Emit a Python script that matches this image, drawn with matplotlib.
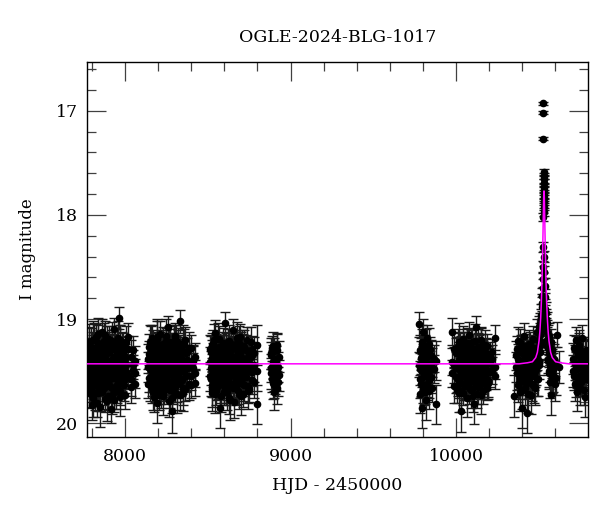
import matplotlib
matplotlib.use("Agg")
import matplotlib.pyplot as plt
from matplotlib.ticker import MultipleLocator

title = "OGLE-2024-BLG-1017"
xlabel = "HJD - 2450000"
ylabel = "I magnitude"

# ---- observed photometry: nights per season, up to three exposures per night ----
t_s1 = [7778, 7782, 7785, 7790, 7793, 7797, 7801, 7806, 7809, 7813, 7818, 7822, 7825, 7830, 7834,
        7838, 7843, 7846, 7851, 7855, 7859, 7863, 7868, 7871, 7876, 7880, 7884, 7889, 7893, 7897,
        7902, 7906, 7910, 7915, 7919, 7923, 7928, 7932, 7936, 7941, 7945, 7949, 7954, 7958, 7962,
        7967, 7971, 7976, 7981, 7986, 7992, 7999, 8008, 8020, 8034, 8048, 8058]
m_s1a = [19.52, 19.31, 19.68, 19.44, 19.21, 19.57, 19.39, 19.76, 19.28, 19.49, 19.62, 19.17, 19.45,
         19.35, 19.71, 19.53, 19.26, 19.41, 19.84, 19.33, 19.58, 19.12, 19.47, 19.66, 19.38, 19.24,
         19.55, 19.43, 19.79, 19.30, 19.50, 19.19, 19.64, 19.40, 19.27, 19.73, 19.46, 19.10, 19.56,
         19.36, 19.69, 19.22, 19.48, 19.60, 18.99, 19.42, 19.75, 19.34, 19.54, 19.25, 19.63, 19.37,
         19.51, 19.29, 19.58, 19.44, 19.40]
m_s1b = [19.33, 19.61, 19.25, 19.50, 19.72, 19.38, 19.55, 19.20, 19.64, 19.42,
         19.29, 19.58, 19.47, 19.81, 19.23, 19.36, 19.67, 19.52, 19.31, 19.45,
         19.70, 19.27, 19.56, 19.39, 19.15, 19.62, 19.34, 19.48, 19.26, 19.74,
         19.41, 19.59, 19.30, 19.53, 19.66, 19.21, 19.37, 19.78, 19.44, 19.28,
         19.51, 19.63, 19.35, 19.18, 19.57, 19.69, 19.24, 19.46, 19.32, 19.60,
         19.40, 19.73, 19.22, 19.54, 19.36, 19.49, 19.62]
m_s1c = [19.58, 19.40, 19.22, 19.66, 19.35, 19.47, 19.83, 19.30, 19.52, 19.19,
         19.71, 19.43, 19.28, 19.60, 19.49, 19.14, 19.56, 19.37, 19.68, 19.25,
         19.44, 19.62, 19.33, 19.21, 19.54, 19.77, 19.39, 19.26, 19.50, 19.45,
         19.64, 19.32, 19.48, 19.86, 19.41, 19.29, 19.57, 19.36, 19.70, 19.23,
         19.46, 19.31, 19.66, 19.42, 19.53, 19.20, 19.38, 19.61, 19.27, 19.47,
         19.35, 19.58, 19.44, 19.17, 19.65, 19.30, 19.52]
e_s1 = [0.15, 0.13, 0.17, 0.14, 0.12, 0.16, 0.14, 0.18, 0.13, 0.15,
        0.16, 0.12, 0.14, 0.13, 0.17, 0.15, 0.12, 0.14, 0.20, 0.13,
        0.16, 0.12, 0.14, 0.17, 0.13, 0.12, 0.15, 0.14, 0.19, 0.13,
        0.15, 0.12, 0.16, 0.14, 0.13, 0.18, 0.14, 0.11, 0.16, 0.13,
        0.17, 0.12, 0.15, 0.16, 0.11, 0.14, 0.18, 0.13, 0.15, 0.12,
        0.16, 0.13, 0.15, 0.13, 0.16, 0.14, 0.14]

t_s2 = [8140, 8146, 8151, 8155, 8160, 8164, 8169, 8173, 8178, 8182, 8187, 8191, 8196, 8200, 8205,
        8209, 8214, 8218, 8223, 8227, 8232, 8236, 8241, 8245, 8250, 8254, 8259, 8263, 8268, 8272,
        8277, 8281, 8286, 8290, 8295, 8299, 8304, 8308, 8313, 8317, 8322, 8326, 8331, 8335, 8340,
        8345, 8350, 8356, 8362, 8369, 8377, 8386, 8396, 8410, 8425]
m_s2a = [19.46, 19.27, 19.63, 19.38, 19.55, 19.18, 19.70, 19.42, 19.33, 19.59, 19.24, 19.51, 19.81,
         19.36, 19.47, 19.14, 19.65, 19.40, 19.29, 19.57, 19.74, 19.32, 19.49, 19.21, 19.61, 19.44,
         19.08, 19.53, 19.37, 19.68, 19.26, 19.45, 19.88, 19.34, 19.56, 19.16, 19.50, 19.41, 19.72,
         19.23, 19.60, 19.35, 19.48, 19.02, 19.58, 19.30, 19.66, 19.43, 19.20, 19.54, 19.39, 19.62,
         19.28, 19.47, 19.36]
m_s2b = [19.38, 19.57, 19.22, 19.49, 19.66, 19.31, 19.44, 19.75, 19.26, 19.53,
         19.41, 19.63, 19.19, 19.47, 19.35, 19.58, 19.29, 19.71, 19.43, 19.24,
         19.52, 19.37, 19.64, 19.45, 19.16, 19.55, 19.32, 19.79, 19.40, 19.27,
         19.60, 19.48, 19.34, 19.69, 19.21, 19.46, 19.56, 19.30, 19.62, 19.42,
         19.25, 19.51, 19.73, 19.36, 19.44, 19.59, 19.23, 19.50, 19.67, 19.33,
         19.47, 19.28, 19.55, 19.40, 19.61]
m_s2c = [19.62, 19.34, 19.48, 19.21, 19.59, 19.43, 19.28, 19.52, 19.67, 19.36,
         19.45, 19.17, 19.56, 19.40, 19.73, 19.30, 19.50, 19.25, 19.61, 19.46,
         19.35, 19.69, 19.42, 19.57, 19.27, 19.39, 19.64, 19.22, 19.51, 19.44,
         19.33, 19.76, 19.47, 19.26, 19.58, 19.38, 19.65, 19.20, 19.49, 19.31,
         19.54, 19.41, 19.29, 19.60, 19.37, 19.48, 19.71, 19.24, 19.43, 19.55,
         19.32, 19.46, 19.63, 19.39, 19.52]
e_s2 = [0.14, 0.13, 0.16, 0.14, 0.15, 0.12, 0.17, 0.14, 0.13, 0.16,
        0.12, 0.15, 0.19, 0.13, 0.14, 0.12, 0.17, 0.14, 0.13, 0.16,
        0.18, 0.13, 0.15, 0.12, 0.16, 0.14, 0.11, 0.15, 0.13, 0.17,
        0.12, 0.14, 0.21, 0.13, 0.15, 0.12, 0.15, 0.14, 0.18, 0.12,
        0.16, 0.13, 0.14, 0.11, 0.16, 0.13, 0.17, 0.14, 0.12, 0.15,
        0.14, 0.16, 0.13, 0.14, 0.13]

t_s3 = [8514, 8519, 8524, 8528, 8533, 8537, 8542, 8546, 8551, 8555, 8560, 8564, 8569, 8573, 8578,
        8582, 8587, 8591, 8596, 8600, 8605, 8609, 8614, 8618, 8623, 8627, 8632, 8636, 8641, 8645,
        8650, 8654, 8659, 8663, 8668, 8672, 8677, 8681, 8686, 8690, 8695, 8699, 8704, 8709, 8714,
        8719, 8724, 8730, 8736, 8743, 8751, 8760, 8770, 8782, 8795]
m_s3a = [19.41, 19.58, 19.25, 19.67, 19.36, 19.49, 19.13, 19.72, 19.44, 19.30, 19.61, 19.52, 19.19,
         19.85, 19.38, 19.55, 19.27, 19.46, 19.64, 19.33, 19.04, 19.57, 19.42, 19.70, 19.22, 19.50,
         19.35, 19.78, 19.45, 19.28, 19.62, 19.11, 19.53, 19.39, 19.66, 19.24, 19.48, 19.31, 19.59,
         19.43, 19.17, 19.74, 19.37, 19.56, 19.26, 19.63, 19.40, 19.51, 19.20, 19.69, 19.34, 19.47,
         19.29, 19.60, 19.82]
m_s3b = [19.55, 19.32, 19.46, 19.71, 19.24, 19.60, 19.39, 19.50, 19.28, 19.65,
         19.43, 19.19, 19.57, 19.36, 19.48, 19.74, 19.31, 19.62, 19.41, 19.25,
         19.53, 19.67, 19.34, 19.45, 19.59, 19.21, 19.47, 19.38, 19.63, 19.29,
         19.52, 19.42, 19.80, 19.26, 19.44, 19.58, 19.35, 19.69, 19.23, 19.49,
         19.61, 19.30, 19.54, 19.40, 19.72, 19.27, 19.46, 19.56, 19.37, 19.64,
         19.43, 19.22, 19.59, 19.33, 19.50]
m_s3c = [19.29, 19.47, 19.63, 19.37, 19.52, 19.20, 19.58, 19.44, 19.69, 19.33,
         19.50, 19.41, 19.27, 19.61, 19.45, 19.35, 19.56, 19.23, 19.48, 19.70,
         19.38, 19.29, 19.64, 19.51, 19.42, 19.76, 19.31, 19.55, 19.24, 19.46,
         19.37, 19.66, 19.43, 19.28, 19.59, 19.49, 19.18, 19.54, 19.40, 19.72,
         19.34, 19.57, 19.45, 19.26, 19.62, 19.39, 19.53, 19.30, 19.48, 19.41,
         19.67, 19.36, 19.51, 19.44, 19.25]
e_s3 = [0.14, 0.16, 0.12, 0.17, 0.13, 0.15, 0.12, 0.18, 0.14, 0.13,
        0.16, 0.15, 0.12, 0.20, 0.13, 0.15, 0.12, 0.14, 0.17, 0.13,
        0.11, 0.16, 0.14, 0.17, 0.12, 0.15, 0.13, 0.19, 0.14, 0.12,
        0.16, 0.11, 0.15, 0.14, 0.17, 0.12, 0.15, 0.13, 0.16, 0.14,
        0.12, 0.18, 0.13, 0.15, 0.12, 0.16, 0.14, 0.15, 0.12, 0.17,
        0.13, 0.14, 0.13, 0.16, 0.19]

t_s4 = [8880, 8884, 8887, 8891, 8894, 8898, 8901, 8905, 8908, 8912, 8915, 8919, 8923, 8928]
m_s4a = [19.35, 19.52, 19.28, 19.61, 19.44, 19.70, 19.31, 19.48, 19.57, 19.39, 19.66, 19.25, 19.46, 19.54]
m_s4b = [19.47, 19.33, 19.58, 19.41, 19.26, 19.52, 19.63, 19.38, 19.45, 19.55, 19.30, 19.49, 19.60, 19.36]
e_s4 = [0.13, 0.15, 0.12, 0.16, 0.14, 0.17, 0.13, 0.14, 0.15, 0.13, 0.16, 0.12, 0.14, 0.15]

t_s5 = [9778, 9781, 9784, 9787, 9790, 9793, 9796, 9799, 9802, 9805, 9808, 9811, 9814, 9817, 9820,
        9823, 9826, 9830, 9834, 9838, 9843, 9849, 9856, 9866, 9880]
m_s5a = [19.05, 19.48, 19.72, 19.31, 19.58, 19.22, 19.85, 19.40, 19.12, 19.66, 19.36, 19.53, 19.27,
         19.78, 19.45, 19.18, 19.62, 19.34, 19.50, 19.69, 19.29, 19.56, 19.42, 19.38, 19.82]
m_s5b = [19.44, 19.30, 19.58, 19.62, 19.37, 19.50, 19.26, 19.67, 19.45, 19.33,
         19.55, 19.41, 19.70, 19.29, 19.52, 19.63, 19.36, 19.47, 19.24, 19.59,
         19.43, 19.35, 19.66, 19.48, 19.40]
e_s5 = [0.12, 0.15, 0.18, 0.13, 0.16, 0.12, 0.20, 0.14, 0.12, 0.17, 0.13, 0.15, 0.12, 0.19, 0.14,
        0.12, 0.16, 0.13, 0.15, 0.17, 0.12, 0.15, 0.14, 0.13, 0.19]

t_s6 = [9978, 9990, 10000, 10006, 10011, 10016, 10020, 10024, 10028, 10032, 10036, 10040, 10044,
        10048, 10052, 10056, 10060, 10064, 10068, 10072, 10076, 10080, 10084, 10088, 10092, 10096,
        10100, 10104, 10108, 10112, 10116, 10120, 10124, 10128, 10132, 10136, 10140, 10144, 10148,
        10152, 10157, 10162, 10167, 10172, 10178, 10185, 10193, 10203, 10216, 10232]
m_s6a = [19.12, 19.64, 19.47, 19.30, 19.58, 19.39, 19.71, 19.25, 19.52, 19.88, 19.35, 19.44, 19.19,
         19.62, 19.41, 19.55, 19.28, 19.76, 19.37, 19.49, 19.15, 19.60, 19.33, 19.46, 19.68, 19.22,
         19.53, 19.40, 19.82, 19.31, 19.57, 19.08, 19.45, 19.36, 19.65, 19.27, 19.50, 19.43, 19.73,
         19.20, 19.56, 19.34, 19.61, 19.38, 19.48, 19.26, 19.59, 19.42, 19.32, 19.18]
m_s6b = [19.41, 19.29, 19.56, 19.68, 19.33, 19.48, 19.22, 19.60, 19.44, 19.37,
         19.53, 19.26, 19.71, 19.40, 19.31, 19.62, 19.47, 19.35, 19.58, 19.24,
         19.45, 19.66, 19.38, 19.52, 19.28, 19.43, 19.74, 19.32, 19.55, 19.46,
         19.21, 19.59, 19.39, 19.50, 19.27, 19.63, 19.42, 19.34, 19.57, 19.48,
         19.30, 19.69, 19.44, 19.25, 19.53, 19.40, 19.61, 19.36, 19.49, 19.55]
m_s6c = [19.52, 19.44, 19.33, 19.57, 19.26, 19.62, 19.40, 19.48, 19.31, 19.69,
         19.38, 19.55, 19.46, 19.28, 19.64, 19.35, 19.51, 19.42, 19.23, 19.60,
         19.47, 19.32, 19.58, 19.39, 19.45, 19.67, 19.29, 19.50, 19.37, 19.61,
         19.43, 19.34, 19.56, 19.72, 19.30, 19.49, 19.41, 19.63, 19.27, 19.53,
         19.45, 19.36, 19.59, 19.48, 19.33, 19.66, 19.42, 19.51, 19.38, 19.46]
e_s6 = [0.13, 0.17, 0.15, 0.13, 0.16, 0.14, 0.18, 0.12, 0.15, 0.20,
        0.13, 0.14, 0.12, 0.16, 0.14, 0.15, 0.12, 0.18, 0.13, 0.15,
        0.12, 0.16, 0.13, 0.14, 0.17, 0.12, 0.15, 0.14, 0.19, 0.13,
        0.16, 0.11, 0.14, 0.13, 0.17, 0.12, 0.15, 0.14, 0.18, 0.12,
        0.16, 0.13, 0.16, 0.14, 0.15, 0.12, 0.16, 0.14, 0.13, 0.12]

# 2024 season with the microlensing event
t_s7 = [10352, 10362, 10368, 10373, 10378, 10382, 10386, 10390, 10394, 10398,
        10402, 10406, 10410, 10414, 10418, 10422, 10426, 10430, 10434, 10438,
        10442, 10446, 10450, 10454, 10458, 10462, 10466, 10470, 10474, 10478,
        10482, 10486, 10490, 10494, 10498, 10502, 10505, 10508, 10511, 10514,
        10517, 10519, 10521, 10523, 10524, 10525, 10526, 10527.0, 10527.3, 10527.6,
        10528.0, 10528.4, 10528.8, 10529.2, 10529.6, 10530.0, 10530.4, 10530.8, 10531.2, 10531.6,
        10532.0, 10533, 10534, 10536, 10538, 10540, 10542, 10544, 10546, 10548,
        10550, 10553, 10556, 10559, 10562, 10565, 10568, 10571, 10574, 10578,
        10583, 10590, 10600, 10612, 10622]
m_s7 = [19.74, 19.35, 19.52, 19.21, 19.61, 19.40, 19.70, 19.28, 19.48, 19.85,
        19.33, 19.57, 19.16, 19.45, 19.66, 19.30, 19.52, 19.90, 19.38, 19.60,
        19.24, 19.47, 19.73, 19.34, 19.55, 19.19, 19.43, 19.64, 19.29, 19.50,
        19.36, 19.12, 19.58, 19.27, 19.44, 19.08, 19.32, 19.05, 19.22, 18.96,
        18.88, 19.02, 18.78, 18.62, 18.50, 18.31, 18.02, 17.27, 17.02, 16.93,
        17.92, 17.84, 17.76, 17.69, 17.63, 17.59, 17.66, 17.73, 17.81, 17.88,
        17.97, 18.40, 18.55, 18.68, 18.79, 18.90, 19.00, 18.94, 19.10, 19.20,
        19.04, 19.28, 19.38, 19.16, 19.50, 19.31, 19.60, 19.22, 19.73, 19.43,
        19.54, 19.38, 19.62, 19.15, 19.46]
e_s7 = [0.20, 0.14, 0.16, 0.13, 0.16, 0.14, 0.18, 0.13, 0.15, 0.20,
        0.14, 0.16, 0.12, 0.15, 0.17, 0.13, 0.15, 0.19, 0.14, 0.16,
        0.13, 0.15, 0.18, 0.14, 0.16, 0.12, 0.14, 0.17, 0.13, 0.15,
        0.14, 0.12, 0.16, 0.13, 0.14, 0.11, 0.13, 0.11, 0.12, 0.10,
        0.09, 0.10, 0.08, 0.07, 0.06, 0.05, 0.04, 0.015, 0.015, 0.015,
        0.03, 0.03, 0.03, 0.03, 0.03, 0.03, 0.03, 0.03, 0.03, 0.03,
        0.04, 0.05, 0.06, 0.07, 0.08, 0.09, 0.10, 0.10, 0.11, 0.12,
        0.11, 0.13, 0.14, 0.12, 0.15, 0.13, 0.16, 0.12, 0.19, 0.14,
        0.16, 0.14, 0.17, 0.12, 0.15]
t_s7b = [10364, 10368, 10372, 10376, 10380, 10384, 10388, 10392, 10396, 10400,
         10404, 10408, 10412, 10416, 10420, 10424, 10428, 10432, 10436, 10440,
         10444, 10448, 10452, 10456, 10460, 10464, 10468, 10472, 10476, 10480,
         10484, 10488, 10492, 10496, 10500, 10504, 10509, 10513, 10516, 10520,
         10522, 10545, 10549, 10552, 10555, 10558, 10561, 10564, 10567, 10570,
         10573, 10577, 10581, 10586, 10595, 10605]
m_s7b = [19.46, 19.29, 19.63, 19.38, 19.52, 19.22, 19.57, 19.41, 19.33, 19.68,
         19.45, 19.26, 19.54, 19.37, 19.61, 19.43, 19.30, 19.49, 19.72, 19.35,
         19.56, 19.24, 19.47, 19.62, 19.39, 19.28, 19.53, 19.42, 19.66, 19.31,
         19.48, 19.36, 19.58, 19.20, 19.40, 19.26, 19.15, 19.00, 19.10, 18.85,
         18.70, 19.05, 19.12, 19.26, 19.18, 19.40, 19.33, 19.52, 19.27, 19.45,
         19.36, 19.55, 19.30, 19.48, 19.41, 19.57]
e_s7b = [0.14, 0.13, 0.17, 0.14, 0.15, 0.12, 0.16, 0.14, 0.13, 0.18,
         0.14, 0.12, 0.15, 0.13, 0.16, 0.14, 0.13, 0.15, 0.18, 0.13,
         0.16, 0.12, 0.14, 0.17, 0.14, 0.13, 0.15, 0.14, 0.17, 0.13,
         0.15, 0.13, 0.16, 0.12, 0.14, 0.12, 0.11, 0.10, 0.11, 0.09,
         0.08, 0.10, 0.11, 0.13, 0.12, 0.14, 0.13, 0.15, 0.13, 0.15,
         0.14, 0.16, 0.13, 0.15, 0.14, 0.16]

t_s8 = [10708, 10713, 10718, 10722, 10727, 10731, 10736, 10740, 10745, 10749,
        10754, 10758, 10763, 10767, 10772, 10777, 10782, 10787, 10792]
m_s8a = [19.50, 19.28, 19.62, 19.20, 19.45, 19.70, 19.35, 19.55, 19.25, 19.66,
         19.40, 19.18, 19.58, 19.32, 19.48, 19.75, 19.30, 19.52, 19.42]
m_s8b = [19.38, 19.55, 19.42, 19.63, 19.30, 19.48, 19.57, 19.27, 19.46, 19.36,
         19.60, 19.44, 19.33, 19.52, 19.68, 19.40, 19.58, 19.35, 19.47]
e_s8 = [0.15, 0.13, 0.17, 0.12, 0.14, 0.18, 0.13, 0.16, 0.12, 0.17,
        0.14, 0.12, 0.16, 0.13, 0.15, 0.19, 0.13, 0.15, 0.14]

# ---- model light curve ----
model_t = [7772, 10381, 10431, 10461, 10481, 10491, 10501, 10506, 10511, 10515, 10519, 10523,
           10525, 10527, 10529, 10530, 10531, 10532, 10533, 10535, 10537, 10539, 10543, 10547,
           10551, 10556, 10561, 10571, 10581, 10601, 10631, 10681, 10795]
model_mag = [19.43, 19.43, 19.42, 19.41, 19.37, 19.32, 19.21, 19.12, 18.99, 18.84, 18.63, 18.34,
             18.17, 17.99, 17.83, 17.78, 17.77, 17.78, 17.83, 17.99, 18.17, 18.34, 18.63, 18.84,
             18.99, 19.12, 19.21, 19.32, 19.37, 19.41, 19.42, 19.43, 19.43]

sets = [(t_s1, m_s1a, e_s1), (t_s1, m_s1b, e_s1), (t_s1, m_s1c, e_s1),
        (t_s2, m_s2a, e_s2), (t_s2, m_s2b, e_s2), (t_s2, m_s2c, e_s2),
        (t_s3, m_s3a, e_s3), (t_s3, m_s3b, e_s3), (t_s3, m_s3c, e_s3),
        (t_s4, m_s4a, e_s4), (t_s4, m_s4b, e_s4),
        (t_s5, m_s5a, e_s5), (t_s5, m_s5b, e_s5),
        (t_s6, m_s6a, e_s6), (t_s6, m_s6b, e_s6), (t_s6, m_s6c, e_s6),
        (t_s7b, m_s7b, e_s7b), (t_s7, m_s7, e_s7),
        (t_s8, m_s8a, e_s8), (t_s8, m_s8b, e_s8)]

plt.rcParams['font.family'] = ['DejaVu Serif']

fig = plt.figure(figsize=(6.0, 5.12), dpi=100)
ax = fig.add_axes([0.1455, 0.147, 0.834, 0.7324])

for t, m, e in sets:
    ax.errorbar(t, m, yerr=e, fmt='o', color='black', ecolor='#1a1a1a', ms=4.5, capsize=3.5,
                elinewidth=1.0, capthick=1.0, zorder=2)

ax.plot(model_t, model_mag, color='#ff00ff', lw=1.1, zorder=3)

ax.set_xlim(7772, 10795)
ax.set_ylim(20.13, 16.53)

ax.xaxis.set_major_locator(MultipleLocator(1000))
ax.xaxis.set_minor_locator(MultipleLocator(200))
ax.yaxis.set_major_locator(MultipleLocator(1))
ax.yaxis.set_minor_locator(MultipleLocator(0.2))

ax.tick_params(which='both', direction='in', top=True, right=True, color='0.25', width=0.9,
               labelsize=12.5)
ax.tick_params(which='major', length=13.5)
ax.tick_params(which='minor', length=6.7)
ax.tick_params(axis='x', which='major', pad=8)
ax.tick_params(axis='y', which='major', pad=7)

for s in ax.spines.values():
    s.set_linewidth(1.0)
    s.set_color('black')

ax.set_title(title, fontsize=12.5, pad=14)
ax.set_xlabel(xlabel, fontsize=12.5, labelpad=9)
ax.set_ylabel(ylabel, fontsize=12, labelpad=14)

fig.savefig("out.png", dpi=100)
